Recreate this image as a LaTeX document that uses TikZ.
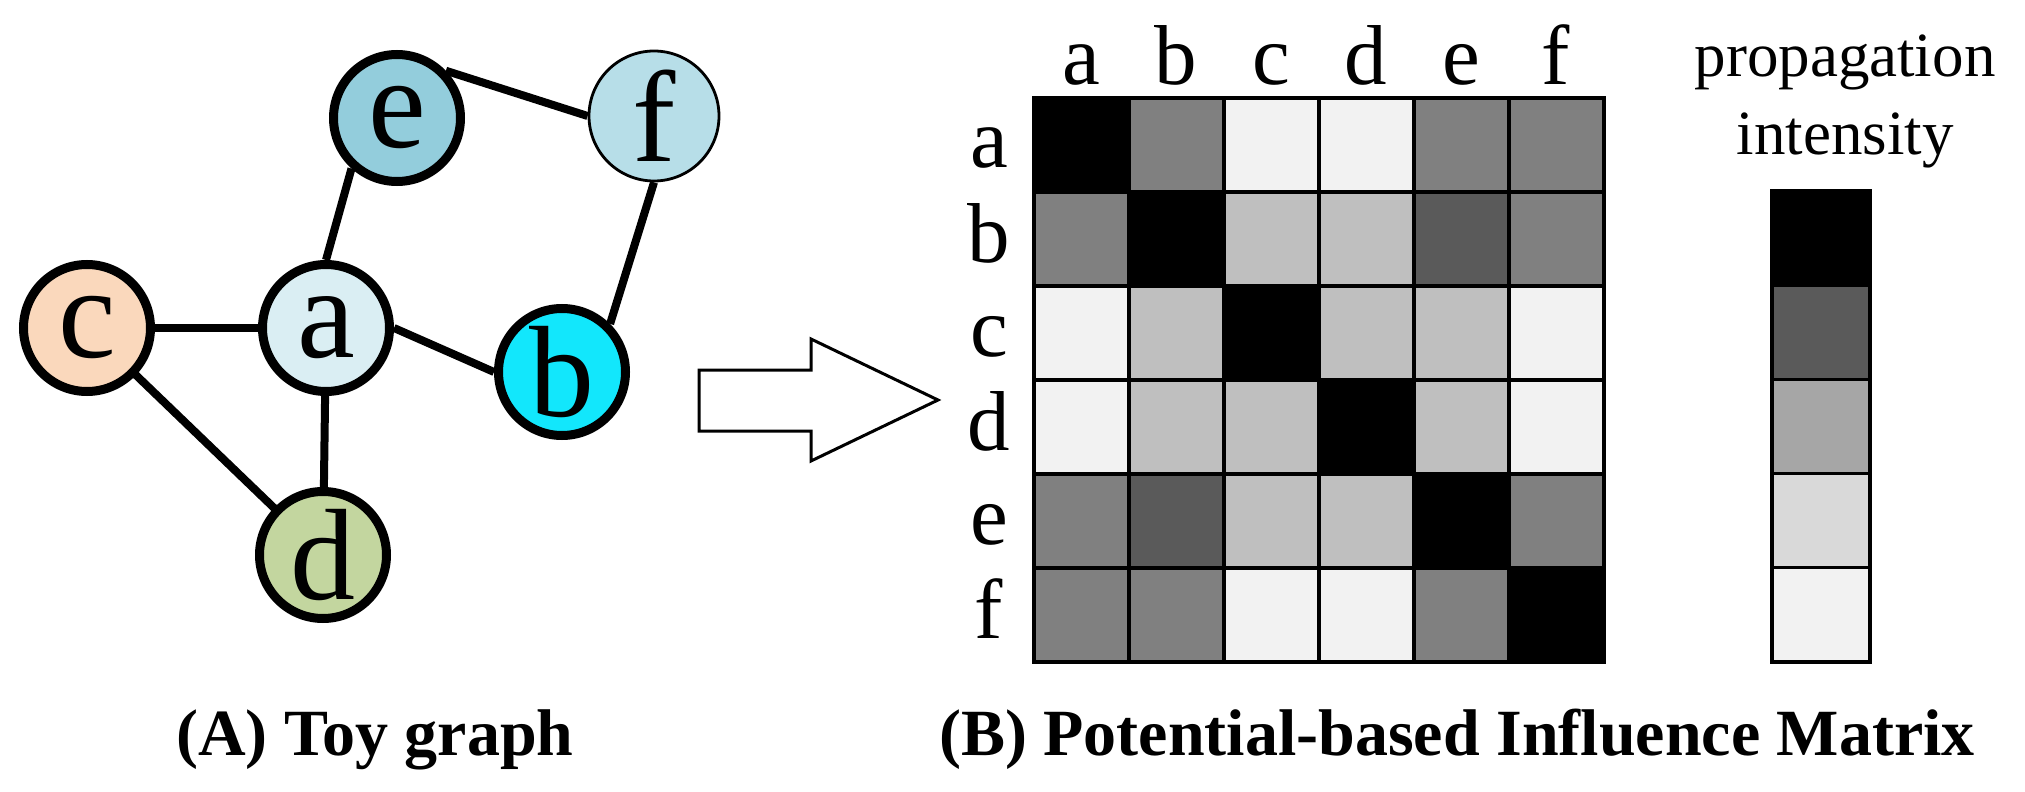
\documentclass[tikz,border=0pt]{standalone}
\usepackage{fontspec}
\setmainfont{Liberation Serif}
\usetikzlibrary{backgrounds}
\definecolor{nodeA}{HTML}{DAEEF3}
\definecolor{nodeB}{HTML}{12E7FC}
\definecolor{nodeC}{HTML}{FAD8BC}
\definecolor{nodeD}{HTML}{C3D69F}
\definecolor{nodeE}{HTML}{93CDDC}
\definecolor{nodeF}{HTML}{B7DEE8}
\definecolor{mcol0}{HTML}{000000}
\definecolor{mcol1}{HTML}{5A5A5A}
\definecolor{mcol2}{HTML}{808080}
\definecolor{mcol3}{HTML}{BFBFBF}
\definecolor{mcol4}{HTML}{F2F2F2}
\definecolor{bar0}{HTML}{000000}
\definecolor{bar1}{HTML}{5A5A5A}
\definecolor{bar2}{HTML}{A6A6A6}
\definecolor{bar3}{HTML}{D9D9D9}
\definecolor{bar4}{HTML}{F2F2F2}
\tikzset{
  gnode/.style={circle, draw=black, line width=4.5pt, minimum size=63.5pt, inner sep=0pt,
    font=\fontsize{65}{65}\selectfont},
  thinnode/.style={gnode, line width=1.4pt, minimum size=65pt},
  edge/.style={line width=4pt, black},
  mlabel/.style={font=\fontsize{42.5}{42.5}\selectfont, anchor=base, inner sep=0pt},
  cbtext/.style={font=\fontsize{31.5}{31.5}\selectfont, anchor=base, inner sep=0pt},
  caption/.style={font=\bfseries\fontsize{33}{33}\selectfont, anchor=base, inner sep=0pt},
  cellline/.style={line width=1.6pt, draw=black},
  blockarrow/.style={line width=1.5pt, draw=black, fill=white, line join=miter}
}
\begin{document}
\begin{tikzpicture}[x=0.5pt, y=-0.5pt]
\useasboundingbox (0,0) rectangle (2025,792);
% graph
\node[gnode, fill=nodeC] (c) at (87,328) {c};
\node[gnode, fill=nodeA] (a) at (326,328) {a};
\node[gnode, fill=nodeB] (b) at (562,372) {b};
\node[gnode, fill=nodeD] (d) at (323,555) {d};
\node[gnode, fill=nodeE] (e) at (397,118) {e};
\node[thinnode, fill=nodeF] (f) at (654,116) {f};
\begin{scope}[on background layer]
\draw[edge] (c.center) -- (a.center);
\draw[edge] (c.center) -- (d.center);
\draw[edge] (a.center) -- (d.center);
\draw[edge] (a.north) -- (e.228);
\draw[edge] (a.east) -- (b.west);
\draw[edge] (e.44) -- (f.west);
\draw[edge] (f.south) -- (b.45);
\end{scope}
% arrow
\draw[blockarrow] (699,370) -- (811,370) -- (811,339) -- (938,400) -- (811,461) -- (811,431) -- (699,431) -- cycle;
% matrix
\foreach \rowvals [count=\r from 0] in {{0,2,4,4,2,2},{2,0,3,3,1,2},{4,3,0,3,3,4},{4,3,3,0,3,4},{2,1,3,3,0,2},{2,2,4,4,2,0}}{
  \foreach \v [count=\cc from 0] in \rowvals {
    \path[cellline, fill=mcol\v] ({1034+95*\cc},{98+94*\r}) rectangle ({1034+95*(\cc+1)},{98+94*(\r+1)});
  }
}
\draw[cellline, line width=2pt] (1034,98) rectangle (1604,662);
\foreach \lab [count=\i from 0] in {a,b,c,d,e,f}{
  \node[mlabel] (col\lab) at ({1081+95*\i},85) {\lab};
  \node[mlabel] (row\lab) at (989,{145+94*\i+23}) {\lab};
}
% colour bar
\foreach \k in {0,1,2,3,4}{
  \path[cellline, fill=bar\k] (1772,{191+94.2*\k}) rectangle (1870,{191+94.2*(\k+1)});
}
\node[cbtext] (cbt1) at (1845,77) {propagation};
\node[cbtext] (cbt2) at (1845,155) {intensity};
% captions
\node[caption] (capA) at (375,755) {(A) Toy graph};
\node[caption] (capB) at (1457,755) {(B) Potential-based Influence Matrix};
\end{tikzpicture}
\end{document}
